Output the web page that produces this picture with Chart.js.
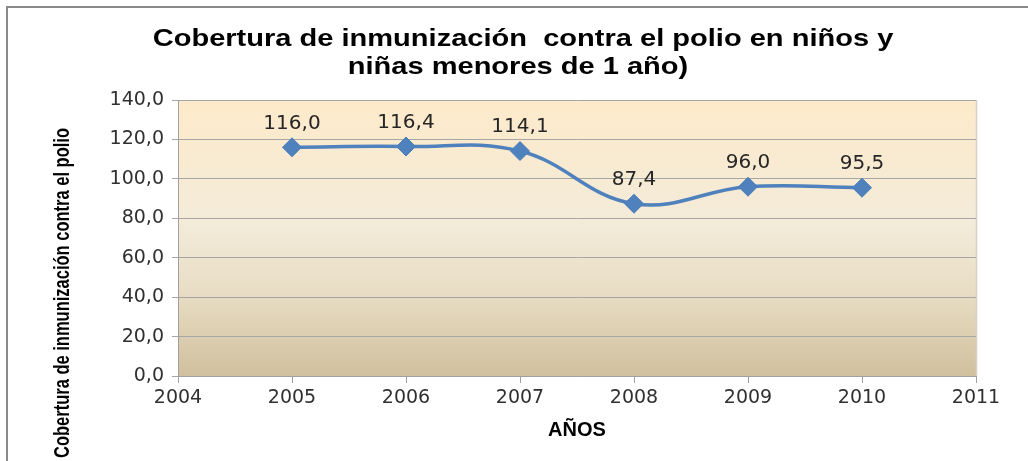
<!DOCTYPE html>
<html>
<head>
<meta charset="utf-8">
<script src="https://cdn.jsdelivr.net/npm/chart.js@4/dist/chart.umd.min.js"></script>
<style>
  html, body { margin: 0; padding: 0; background: #fff; overflow: hidden; }
  #wrap { position: relative; width: 1028px; height: 461px; }
  #frame { position: absolute; left: 6px; top: 6px; width: 1100px; height: 600px;
           border-left: 2px solid #8a8a8a; border-top: 2px solid #8a8a8a; pointer-events: none; }
</style>
</head>
<body>
<div id="wrap">
  <canvas id="chart" width="1028" height="461"></canvas>
  <div id="frame"></div>
</div>
<script>
// Data
const years = [2005, 2006, 2007, 2008, 2009, 2010];
const coverage = [116.0, 116.4, 114.1, 87.4, 96.0, 95.5];
const titleLines = ['Cobertura de inmunización  contra el polio en niños y', 'niñas menores de 1 año)'];
const yTitle = 'Cobertura de inmunización contra el polio';
const xTitle = 'AÑOS';

const comma = v => v.toFixed(1).replace('.', ',');

// Plot area gradient
const plotBackground = {
  id: 'plotBackground',
  beforeDraw(chart) {
    const { ctx, chartArea: a } = chart;
    const g = ctx.createLinearGradient(0, a.top, 0, a.bottom);
    g.addColorStop(0, '#FDEACA');
    g.addColorStop(0.45, '#F3EBD9');
    g.addColorStop(0.7, '#E8DDC4');
    g.addColorStop(1, '#D0C09E');
    ctx.save();
    ctx.fillStyle = g;
    ctx.fillRect(a.left, a.top, a.right - a.left, a.bottom - a.top);
    ctx.strokeStyle = '#D4D0C8';
    ctx.lineWidth = 1.5;
    ctx.beginPath();
    ctx.moveTo(a.right + 0.5, a.top);
    ctx.lineTo(a.right + 0.5, a.bottom);
    ctx.stroke();
    ctx.restore();
  }
};

// Title (slightly stretched like the original), value labels, rotated y title
const textPlugin = {
  id: 'textPlugin',
  afterDatasetsDraw(chart) {
    const { ctx } = chart;
    const meta = chart.getDatasetMeta(0);
    ctx.save();
    ctx.font = '20px "DejaVu Sans"';
    ctx.fillStyle = '#262626';
    ctx.textAlign = 'center';
    ctx.textBaseline = 'middle';
    meta.data.forEach((pt, i) => {
      ctx.fillText(comma(coverage[i]), pt.x, pt.y - 24);
    });
    ctx.restore();

    ctx.save();
    ctx.font = 'bold 24px "Liberation Sans", Arial';
    ctx.fillStyle = '#000';
    ctx.textAlign = 'center';
    ctx.textBaseline = 'middle';
    [[523, 39], [518, 67]].forEach(([cx, cy], i) => {
      ctx.save();
      ctx.translate(cx, cy);
      ctx.scale(1.21, 1);
      ctx.fillText(titleLines[i], 0, 0);
      ctx.restore();
    });
    ctx.restore();

    ctx.save();
    ctx.translate(63, 293);
    ctx.rotate(-Math.PI / 2);
    ctx.scale(1, 1.3);
    ctx.font = 'bold 16.5px "Liberation Sans Narrow", "Liberation Sans", Arial';
    ctx.fillStyle = '#000';
    ctx.textAlign = 'center';
    ctx.textBaseline = 'middle';
    ctx.fillText(yTitle, 0, 0);
    ctx.restore();
  }
};

new Chart(document.getElementById('chart'), {
  type: 'line',
  data: {
    datasets: [{
      data: years.map((y, i) => ({ x: y, y: coverage[i] })),
      borderColor: '#4F81BD',
      backgroundColor: '#4F81BD',
      borderWidth: 3.5,
      tension: 0.4,
      pointStyle: 'rectRot',
      pointRadius: 9.5,
      pointHoverRadius: 9.5,
      pointBorderWidth: 1,
      pointBorderColor: '#4A7EBB',
      pointBackgroundColor: '#4F81BD'
    }]
  },
  options: {
    responsive: false,
    animation: false,
    layout: { padding: { left: 0, right: 52, top: 100, bottom: 0 } },
    plugins: {
      legend: { display: false },
      tooltip: { enabled: false },
      title: { display: false }
    },
    scales: {
      x: {
        type: 'linear',
        min: 2004,
        max: 2011,
        afterFit(scale) { scale.height = 85; },
        ticks: {
          stepSize: 1,
          color: '#303030',
          padding: 4,
          maxRotation: 0,
          font: { family: '"DejaVu Sans"', size: 19 },
          callback: v => String(v)
        },
        grid: { drawOnChartArea: false, drawTicks: true, tickLength: 7, color: '#A0A0A0' },
        border: { color: '#A0A0A0' },
        title: {
          display: true,
          text: xTitle,
          color: '#000',
          font: { family: '"Liberation Sans", Arial', size: 20, weight: 'bold', lineHeight: 1.2 },
          padding: { bottom: 19 }
        }
      },
      y: {
        min: 0,
        max: 140,
        afterFit(scale) { scale.width = 178; },
        ticks: {
          stepSize: 20,
          color: '#303030',
          padding: 8,
          font: { family: '"DejaVu Sans"', size: 19 },
          callback: v => comma(v)
        },
        grid: { color: '#A6A6A6', tickLength: 6 },
        border: { color: '#A0A0A0' }
      }
    }
  },
  plugins: [plotBackground, textPlugin]
});
</script>
</body>
</html>
